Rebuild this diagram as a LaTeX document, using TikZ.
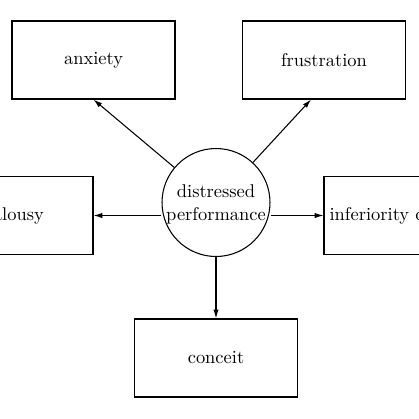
\documentclass[tikz,border=0pt]{standalone}
\usetikzlibrary{arrows.meta}

\begin{document}
\begin{tikzpicture}[x=0.02cm, y=-0.02cm, font=\fontsize{10.5}{13}\selectfont,
    box/.style={draw, line width=0.6pt, minimum width=3.26cm, minimum height=1.56cm, inner sep=0pt},
    hub/.style={draw, circle, line width=0.6pt, minimum size=2.16cm, inner sep=0pt, align=center}]
    \clip (0,0) rectangle (419,419);
    \node[hub] (c) at (216,202.5) {\\[-4pt]distressed\\performance};
    \node[box] (anx) at (93.5,60) {anxiety};
    \node[box] (fru) at (324,60) {frustration};
    \node[box] (jea) at (11.5,215.5) {jealousy};
    \node[box] (inf) at (405.5,215.5) {inferiority complex};
    \node[box] (con) at (216,358) {conceit};
\begin{scope}[line width=0.6pt, -{Latex[length=5pt,width=3pt]}]
    \draw (c) -- (anx.south);
    \draw (c) -- ([xshift=-0.26cm]fru.south);
    \draw (c.west |- jea.east) -- (jea.east);
    \draw (c.east |- inf.west) -- (inf.west);
    \draw (c) -- (con);
\end{scope}
\end{tikzpicture}
\end{document}
